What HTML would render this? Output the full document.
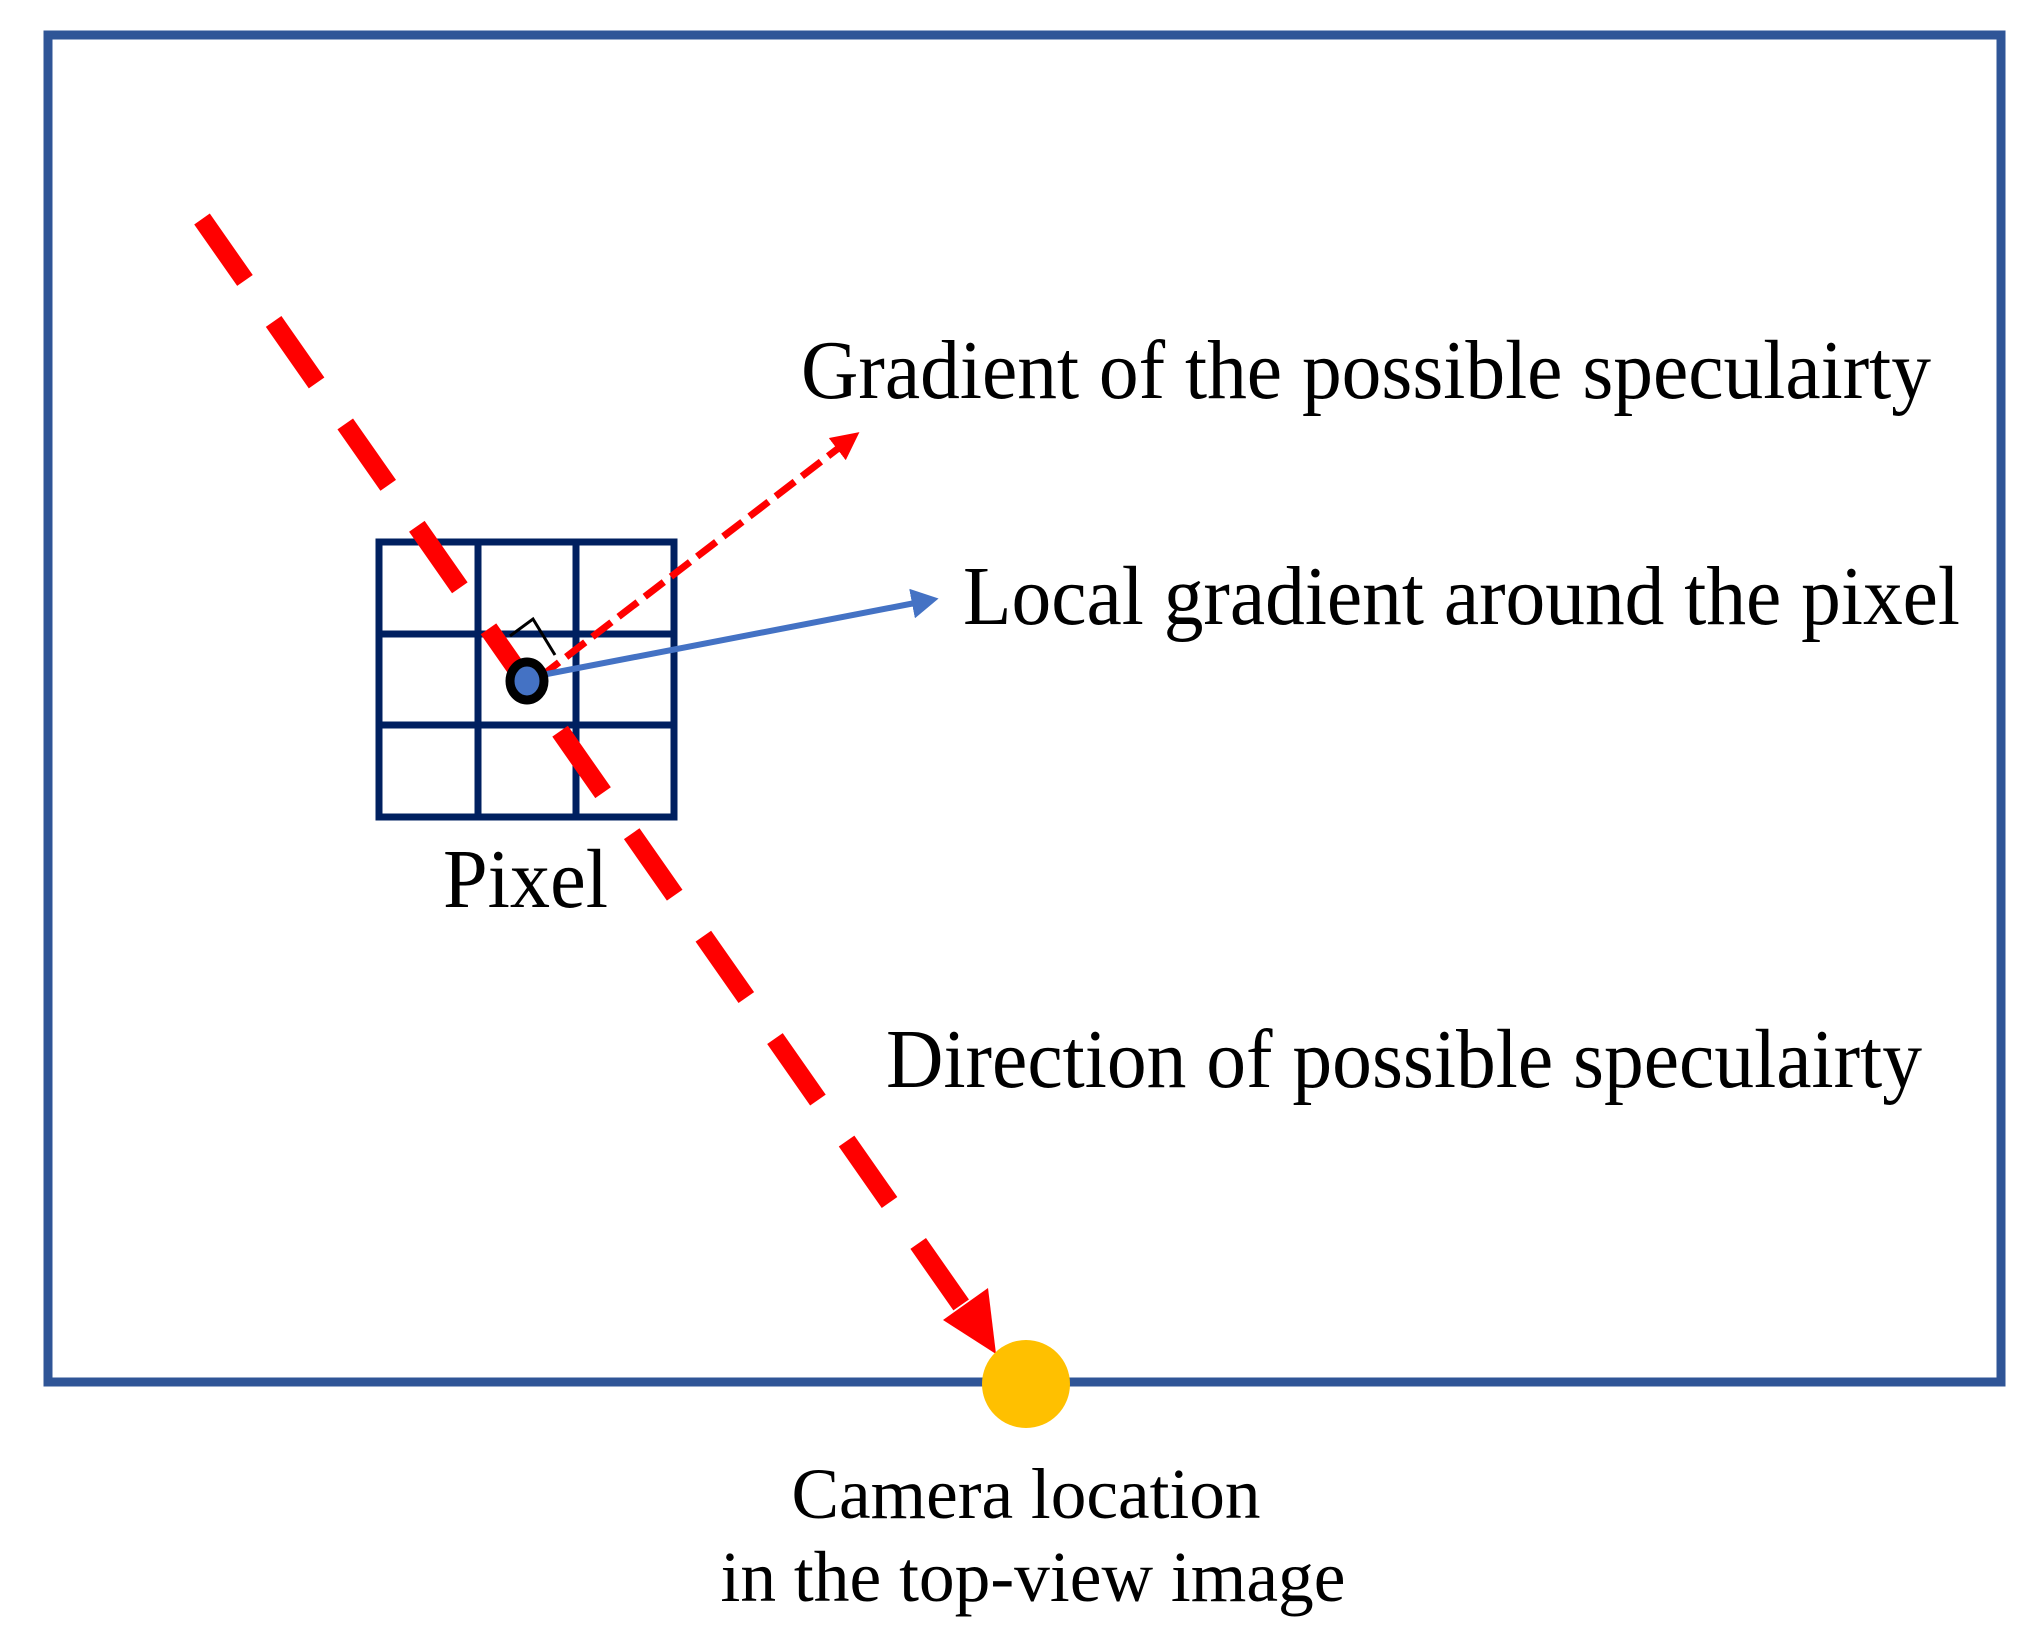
<!DOCTYPE html>
<html><head><meta charset="utf-8"><style>
html,body{margin:0;padding:0;background:#fff;}
svg{display:block;}
text{font-family:"Liberation Serif",serif;fill:#000;}
</style></head><body>
<svg width="2041" height="1650" viewBox="0 0 2041 1650" xmlns="http://www.w3.org/2000/svg">
<defs>
<marker id="rs" markerWidth="4" markerHeight="4" refX="0.5" refY="2" orient="auto" markerUnits="strokeWidth"><path d="M0,0 L4,2 L0,4 Z" fill="#f00"/></marker>
<marker id="bs" markerWidth="4.5" markerHeight="5" refX="0.5" refY="2.5" orient="auto" markerUnits="strokeWidth"><path d="M0,0 L4.5,2.5 L0,5 Z" fill="#4472C4"/></marker>
</defs>
<rect x="48" y="35" width="1953" height="1347" fill="none" stroke="#2F5597" stroke-width="9"/>
<g stroke="#002060" stroke-width="7" fill="none">
<rect x="379" y="542" width="295" height="275"/>
<line x1="478" y1="542" x2="478" y2="817"/>
<line x1="576" y1="542" x2="576" y2="817"/>
<line x1="379" y1="634" x2="674" y2="634"/>
<line x1="379" y1="725" x2="674" y2="725"/>
</g>
<line x1="202" y1="219" x2="964" y2="1309" stroke="#f00" stroke-width="19" stroke-dasharray="75,50"/>
<polygon points="996,1354 943,1320 988,1288" fill="#f00"/>
<polyline points="510,636 533,619 555,655" fill="none" stroke="#000" stroke-width="3"/>
<line x1="540" y1="677" x2="840" y2="447" stroke="#f00" stroke-width="7" stroke-dasharray="24,9" marker-end="url(#rs)"/>
<line x1="547" y1="674" x2="915" y2="603" stroke="#4472C4" stroke-width="6" marker-end="url(#bs)"/>
<ellipse cx="527" cy="681" rx="17" ry="19" fill="#4472C4" stroke="#000" stroke-width="9"/>
<ellipse cx="1026" cy="1384" rx="44" ry="44" fill="#FFC000"/>
<text x="801" y="398" font-size="84" textLength="1130" lengthAdjust="spacingAndGlyphs">Gradient of the possible speculairty</text>
<text x="963" y="624" font-size="84" textLength="997" lengthAdjust="spacingAndGlyphs">Local gradient around the pixel</text>
<text x="886" y="1087" font-size="84" textLength="1036" lengthAdjust="spacingAndGlyphs">Direction of possible speculairty</text>
<text x="443" y="907" font-size="84" textLength="165" lengthAdjust="spacingAndGlyphs">Pixel</text>
<text x="1026" y="1518" font-size="72" text-anchor="middle" textLength="469" lengthAdjust="spacingAndGlyphs">Camera location</text>
<text x="1033" y="1601" font-size="72" text-anchor="middle" textLength="625" lengthAdjust="spacingAndGlyphs">in the top-view image</text>
</svg>
</body></html>
